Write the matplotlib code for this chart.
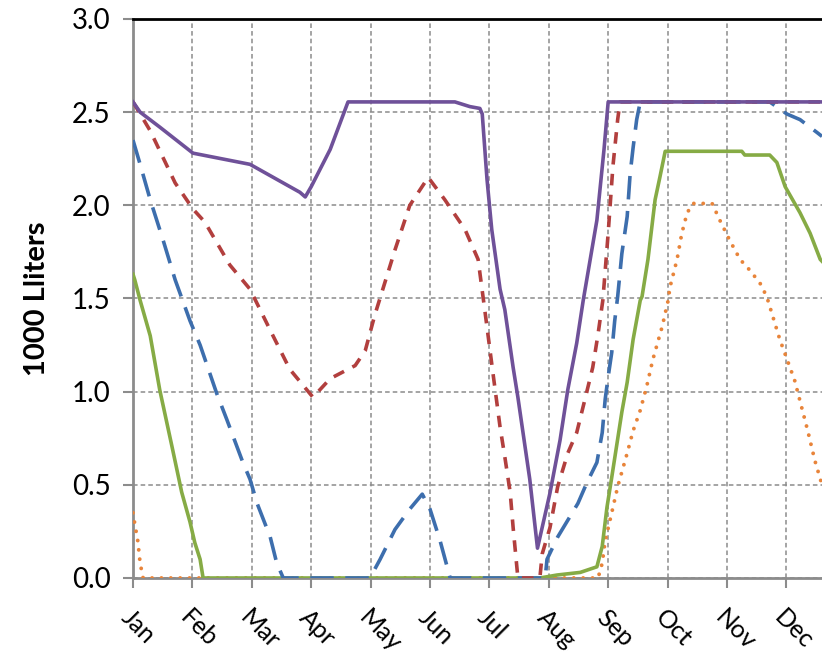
import matplotlib.pyplot as plt
from matplotlib.ticker import MultipleLocator

# eixo x em meses (0 = Jan), eixo y em 1000 litros
months = ["Jan", "Feb", "Mar", "Apr", "May", "Jun", "Jul", "Aug", "Sep", "Oct", "Nov", "Dec"]

purple_x = [0, 0.12, 0.45, 1.01, 1.97, 2.81, 2.90, 3.0, 3.32, 3.62, 5.42, 5.67, 5.84, 5.88,
            5.96, 6.04, 6.18, 6.26, 6.40, 6.48, 6.68, 6.81, 7.02, 7.19, 7.32, 7.47, 7.58,
            7.81, 7.93, 8.0, 11.6]
purple_y = [2.555, 2.50, 2.42, 2.28, 2.22, 2.07, 2.045, 2.10, 2.30, 2.555, 2.555, 2.53, 2.52, 2.49,
            2.14, 1.87, 1.55, 1.44, 1.13, 0.97, 0.53, 0.16, 0.456, 0.74, 1.01, 1.26, 1.49,
            1.92, 2.30, 2.555, 2.555]

red_x = [0, 0.29, 0.71, 1.01, 1.21, 1.63, 1.97, 2.31, 2.64, 3.03, 3.32, 3.74, 3.91, 4.07,
         4.41, 4.66, 4.97, 5.25, 5.59, 5.81, 5.93, 6.06, 6.18, 6.26, 6.35, 6.40, 6.48,
         6.85, 6.89, 7.02, 7.15, 7.32, 7.47, 7.61, 7.74, 7.83, 7.91, 8.0, 8.08, 8.16, 8.20, 11.6]
red_y = [2.555, 2.40, 2.12, 1.98, 1.91, 1.68, 1.55, 1.33, 1.12, 0.97, 1.07, 1.14, 1.22, 1.41,
         1.76, 2.0, 2.15, 2.03, 1.87, 1.71, 1.42, 1.10, 0.81, 0.65, 0.46, 0.27, 0.0,
         0.0, 0.13, 0.27, 0.49, 0.67, 0.78, 0.96, 1.13, 1.31, 1.49, 1.85, 2.21, 2.46, 2.555, 2.555]

blue_x = [0, 0.12, 0.29, 0.51, 0.71, 0.96, 1.13, 1.41, 1.58, 1.85, 1.97, 2.09, 2.31, 2.42,
          2.53, 3.99, 4.16, 4.41, 4.66, 4.87, 5.0, 5.17, 5.34, 6.94, 6.97, 7.15, 7.32, 7.49,
          7.64, 7.81, 7.90, 7.95, 8.0, 8.06, 8.11, 8.16, 8.23, 8.32, 8.37, 8.42, 8.48, 8.54,
          10.72, 11.01, 11.23, 11.52, 11.6]
blue_y = [2.35, 2.22, 2.03, 1.81, 1.60, 1.38, 1.25, 0.99, 0.85, 0.62, 0.53, 0.40, 0.22, 0.08,
          0.0, 0.0, 0.10, 0.26, 0.37, 0.45, 0.37, 0.20, 0.0, 0.0, 0.10, 0.22, 0.31, 0.40,
          0.51, 0.62, 0.78, 0.96, 1.08, 1.21, 1.38, 1.51, 1.74, 1.94, 2.17, 2.31, 2.46, 2.555,
          2.555, 2.49, 2.46, 2.39, 2.37]

green_x = [0, 0.03, 0.12, 0.29, 0.45, 0.66, 0.82, 0.96, 1.04, 1.13, 1.18, 6.85, 7.14, 7.53,
           7.81, 7.90, 7.98, 8.06, 8.23, 8.32, 8.42, 8.54, 8.57, 8.67, 8.79, 8.87, 8.96,
           10.25, 10.30, 10.72, 10.84, 10.98, 11.23, 11.40, 11.57, 11.6]
green_y = [1.63, 1.60, 1.49, 1.30, 1.01, 0.70, 0.46, 0.30, 0.19, 0.10, 0.0, 0.0, 0.016, 0.03,
           0.06, 0.17, 0.38, 0.54, 0.89, 1.05, 1.28, 1.49, 1.51, 1.71, 2.03, 2.15, 2.29,
           2.29, 2.27, 2.27, 2.23, 2.10, 1.96, 1.85, 1.71, 1.70]

orange_x = [0, 0.03, 0.08, 0.12, 0.17, 7.83, 7.90, 7.95, 8.06, 8.16, 8.32, 8.42, 8.54, 8.65,
            8.75, 8.91, 9.01, 9.04, 9.16, 9.24, 9.33, 9.43, 9.75, 9.88, 10.05, 10.22, 10.39,
            10.56, 10.67, 10.89, 11.14, 11.36, 11.48, 11.6]
orange_y = [0.35, 0.29, 0.20, 0.08, 0.0, 0.0, 0.08, 0.20, 0.35, 0.49, 0.67, 0.79, 0.90, 1.03,
            1.17, 1.35, 1.49, 1.56, 1.71, 1.85, 1.96, 2.01, 2.01, 1.92, 1.81, 1.71, 1.65,
            1.58, 1.51, 1.28, 1.06, 0.79, 0.63, 0.50]

plt.rcParams["font.family"] = ["Lato", "DejaVu Sans"]

fig = plt.figure(figsize=(8.22, 6.62), dpi=100)
ax = fig.add_axes([0.1618, 0.1269, 0.8382, 0.8444])

ax.plot(orange_x, orange_y, color="#E8843A", lw=2.8, linestyle=(0, (0.01, 2.4)),
        dash_capstyle="round", zorder=3)
ax.plot(green_x, green_y, color="#86AB45", lw=2.6, zorder=4)
ax.plot(blue_x, blue_y, color="#3D6EAD", lw=2.6, linestyle=(0, (6.5, 3.2)), zorder=5)
ax.plot(red_x, red_y, color="#B23F3E", lw=2.6, linestyle=(0, (3.2, 2.6)), zorder=6)
ax.plot(purple_x, purple_y, color="#6F5199", lw=2.6, zorder=7)

ax.set_xlim(0, 11.6)
ax.set_ylim(0, 3.0)
ax.set_xticks(range(len(months)))
ax.set_xticklabels(months, rotation=-45, ha="left", va="top", rotation_mode="anchor",
                   fontsize=18)
ax.yaxis.set_major_locator(MultipleLocator(0.5))
ax.yaxis.set_major_formatter(plt.FormatStrFormatter("%.1f"))

ax.grid(True, color="#8C8C8C", linestyle=(0, (3, 2)), linewidth=1.1, zorder=0)
ax.set_axisbelow(True)

for s in ["left", "bottom"]:
    ax.spines[s].set_color("#8C8C8C")
    ax.spines[s].set_linewidth(2)
ax.spines["right"].set_visible(False)
ax.spines["top"].set_color("black")
ax.spines["top"].set_linewidth(2)

ax.tick_params(axis="both", colors="#8C8C8C", width=1.5, length=7, labelcolor="black")
ax.tick_params(axis="y", labelsize=20, pad=9)
ax.tick_params(axis="x", pad=13)

ax.set_ylabel("1000 Lliters", fontsize=21, fontweight="bold", labelpad=16)

fig.savefig("out.png", dpi=100)
